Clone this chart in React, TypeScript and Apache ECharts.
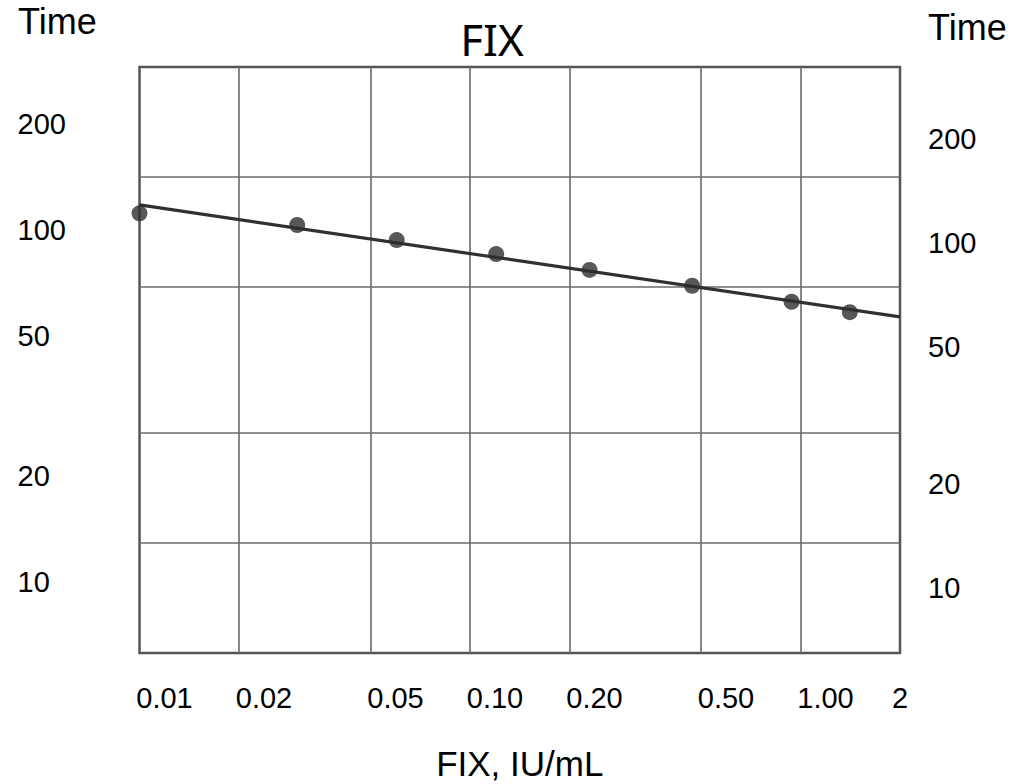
import React, { useEffect, useRef } from "react";
import * as echarts from "echarts";

// Tick values and labels
const xTickValues = [0.01, 0.02, 0.05, 0.1, 0.2, 0.5, 1, 2];
const xTickLabels = ["0.01", "0.02", "0.05", "0.10", "0.20", "0.50", "1.00", "2"];
const xGridValues = [0.02, 0.05, 0.1, 0.2, 0.5, 1];
const yTickValues = [10, 20, 50, 100, 200];
const yGridValues = [10, 20, 50, 100];

// Measured points (FIX IU/mL vs clotting time)
const concentration = [0.01, 0.03, 0.06, 0.12, 0.23, 0.47, 0.94, 1.41];
const clotTime = [111.5, 103.3, 93.6, 85.4, 77.0, 69.4, 62.5, 58.4];

// Fitted line end points
const fitX = [0.01, 2];
const fitY = [117.8, 56.6];

const FONT = "'Liberation Sans', Arial, sans-serif";

export default function App() {
  const ref = useRef<HTMLDivElement>(null);

  useEffect(() => {
    if (!ref.current) return;
    const chart = echarts.init(ref.current, undefined, { renderer: "svg" });

    const xLabelFormatter = (v: number) => {
      const i = xTickValues.findIndex(
        (t) => Math.abs(Math.log10(t) - Math.log10(v)) < 1e-6
      );
      const s = i >= 0 ? xTickLabels[i] : String(v);
      return i === xTickValues.length - 1 ? `{c|${s}}` : `{p|${s}}`;
    };

    // order the label values so that the first two given are not neighbours
    // (keeps ECharts' min-label overlap check from dropping "0.02")
    const labelValues = [xTickValues[2], ...xTickValues.filter((_, i) => i !== 2)];

    const option: any = {
      animation: false,
      backgroundColor: "#ffffff",
      grid: {
        left: 139.5,
        right: 125,
        top: 67,
        bottom: 131,
        outerBoundsMode: "none",
        containLabel: false,
        show: true,
        borderColor: "#555555",
        borderWidth: 2.5,
        backgroundColor: "transparent",
      },
      graphic: [
        {
          type: "text",
          x: 492,
          y: 39,
          style: {
            text: "FIX",
            fontSize: 44,
            fontFamily: "'Noto Sans', 'Open Sans', sans-serif",
            fill: "#000",
            align: "center",
            verticalAlign: "middle",
            textAlign: "center",
            textVerticalAlign: "middle",
          },
        },
        {
          type: "text",
          x: 18,
          y: 21.5,
          style: {
            text: "Time",
            fontSize: 36,
            fontFamily: FONT,
            fill: "#000",
            align: "left",
            verticalAlign: "middle",
            textAlign: "left",
            textVerticalAlign: "middle",
          },
        },
        {
          type: "text",
          x: 928,
          y: 27.5,
          style: {
            text: "Time",
            fontSize: 36,
            fontFamily: FONT,
            fill: "#000",
            align: "left",
            verticalAlign: "middle",
            textAlign: "left",
            textVerticalAlign: "middle",
          },
        },
      ],
      xAxis: {
        type: "log",
        logBase: 10,
        min: xTickValues[0] * (1 - 1e-7),
        max: 2,
        name: "FIX, IU/mL",
        nameLocation: "middle",
        nameGap: 95,
        nameTextStyle: { fontSize: 35, fontFamily: FONT, color: "#000", lineHeight: 30 },
        axisLine: { show: false },
        axisTick: { show: false, customValues: xGridValues },
        axisLabel: {
          customValues: labelValues,
          formatter: xLabelFormatter,
          interval: 0,
          hideOverlap: false,
          align: "center",
          margin: 30,
          fontSize: 29,
          lineHeight: 30,
          fontFamily: FONT,
          color: "#000",
          rich: {
            p: { padding: [0, 0, 0, 50], fontSize: 29, fontFamily: FONT, color: "#000", lineHeight: 30 },
            c: { fontSize: 29, fontFamily: FONT, color: "#000", lineHeight: 30 },
          },
        },
        splitLine: { show: true, lineStyle: { color: "#6a6a6a", width: 1.6 } },
      },
      yAxis: [
        {
          type: "log",
          logBase: 10,
          position: "left",
          min: 6.28,
          max: 290.4,
          axisLine: { show: false },
          axisTick: { show: false },
          splitLine: { show: false },
          axisLabel: {
            customValues: yTickValues,
            formatter: (v: number) => String(Math.round(v)),
            align: "left",
            margin: 122,
            fontSize: 29,
            fontFamily: FONT,
            color: "#000",
          },
        },
        {
          type: "log",
          logBase: 10,
          position: "right",
          min: 6.47,
          max: 323.4,
          axisLine: { show: false },
          axisTick: { show: false },
          splitLine: { show: false },
          axisLabel: {
            customValues: yTickValues,
            formatter: (v: number) => String(Math.round(v)),
            align: "left",
            margin: 28,
            fontSize: 29,
            fontFamily: FONT,
            color: "#000",
          },
        },
        {
          type: "log",
          logBase: 10,
          position: "left",
          min: 5,
          max: 200,
          axisLine: { show: false },
          axisTick: { show: false, customValues: yGridValues },
          axisLabel: { show: false },
          splitLine: { show: true, lineStyle: { color: "#6a6a6a", width: 1.6 } },
        },
      ],
      series: [
        {
          type: "line",
          yAxisIndex: 0,
          data: fitX.map((x, i) => [x, fitY[i]]),
          showSymbol: false,
          symbol: "none",
          lineStyle: { color: "#303030", width: 3.2 },
          z: 3,
          silent: true,
        },
        {
          type: "scatter",
          yAxisIndex: 0,
          data: concentration.map((x, i) => [x, clotTime[i]]),
          symbol: "circle",
          symbolSize: 16,
          itemStyle: { color: "#2e2e2e" },
          z: 4,
          clip: false,
        },
      ],
    };

    chart.setOption(option);
    return () => chart.dispose();
  }, []);

  return (
    <div
      ref={ref}
      style={{ position: "absolute", left: 0, top: 0, width: 1025, height: 784 }}
    />
  );
}
